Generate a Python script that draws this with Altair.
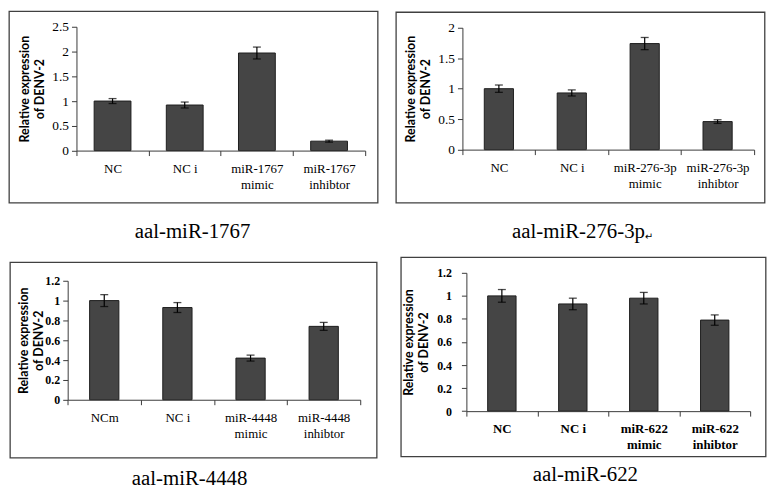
import altair as alt
import pandas as pd

# ---------------- data ----------------
cats_1767 = ["NC", "NC i", "miR-1767\nmimic", "miR-1767\ninhibtor"]
vals_1767 = [1.00, 0.92, 1.97, 0.19]
errs_1767 = [0.05, 0.06, 0.12, 0.02]

cats_276 = ["NC", "NC i", "miR-276-3p\nmimic", "miR-276-3p\ninhibtor"]
vals_276 = [1.00, 0.93, 1.74, 0.46]
errs_276 = [0.06, 0.05, 0.10, 0.03]

cats_4448 = ["NCm", "NC i", "miR-4448\nmimic", "miR-4448\ninhibtor"]
vals_4448 = [1.00, 0.93, 0.42, 0.74]
errs_4448 = [0.06, 0.05, 0.03, 0.04]

cats_622 = ["NC", "NC i", "miR-622\nmimic", "miR-622\ninhibtor"]
vals_622 = [1.00, 0.93, 0.98, 0.79]
errs_622 = [0.055, 0.05, 0.05, 0.045]

yticks_1767 = [0, 0.5, 1, 1.5, 2, 2.5]
yticks_276 = [0, 0.5, 1, 1.5, 2]
yticks_4448 = [0, 0.2, 0.4, 0.6, 0.8, 1, 1.2]
yticks_622 = [0, 0.2, 0.4, 0.6, 0.8, 1, 1.2]

captions = ["aal-miR-1767", "aal-miR-276-3p", "aal-miR-4448", "aal-miR-622"]
return_mark = "\u21b5"
y_title = ["Relative expression", "of DENV-2"]

# ---------------- layout (reference pixel geometry) ----------------
SX, SY = 0.983, 0.975
TITLE_LH = 15


def sx(v):
    return round(v * SX, 2)


def sy(v):
    return round(v * SY, 2)


layouts = [
    dict(view=(71, 16), xaxis=(71, 367), yaxis=(144, 16), frame=(2, 0, 380, 198),
         cell=(2, 0, 388, 244), cap=(190, 228), ytitle=25.5, bar=0.51,
         ybold=False, xbold=False, ysize=13.5, ypad=3),
    dict(view=(463, 16), xaxis=(463, 762), yaxis=(143, 17), frame=(395, 1, 773, 198),
         cell=(388, 0, 778, 244), cap=(582, 228), ytitle=417.5, bar=0.40,
         ybold=False, xbold=False, ysize=13.5, ypad=3),
    dict(view=(71, 277), xaxis=(62, 362), yaxis=(400, 277), frame=(3, 258, 379, 460),
         cell=(2, 244, 391, 494), cap=(187, 482), ytitle=24.5, bar=0.40,
         ybold=True, xbold=False, ysize=12, ypad=3),
    dict(view=(470, 269), xaxis=(470, 761), yaxis=(412, 269), frame=(403, 253, 777, 459),
         cell=(391, 244, 778, 494), cap=(592, 478), ytitle=418, bar=0.40,
         ybold=True, xbold=True, ysize=12, ypad=10),
]

AXIS_COLOR = "#3a3a3a"
SERIF = "Liberation Serif"


def make_panel(cats, vals, errs, yticks, caption, L, extra=None):
    vx, vy = L["view"]
    ax0, ax1 = L["xaxis"]
    yz, yt = L["yaxis"]
    W = sx(ax1 - vx)
    H = sy(yz - vy)
    df = pd.DataFrame({
        "cat": cats,
        "val": vals,
        "lo": [v - e for v, e in zip(vals, errs)],
        "hi": [v + e for v, e in zip(vals, errs)],
    })
    one = pd.DataFrame({"k": [0]})

    xscale = alt.Scale(range=[sx(ax0 - vx), sx(ax1 - vx)], paddingInner=0, paddingOuter=0)
    yscale = alt.Scale(domain=[0, yticks[-1]], range=[sy(yz - vy), sy(yt - vy)], nice=False)

    xaxis = alt.Axis(
        title=None, labelAngle=0, labelExpr="split(datum.label, '\\n')",
        labelFont=SERIF, labelFontSize=13, labelLineHeight=16, labelBaseline="top",
        labelPadding=7, labelColor="black", labelFontWeight="bold" if L["xbold"] else "normal",
        tickBand="extent", tickSize=5, tickColor=AXIS_COLOR, domainColor=AXIS_COLOR,
        grid=False, zindex=1,
    )
    yaxis = alt.Axis(
        values=yticks, format="~g", grid=False, zindex=1,
        labelFont=SERIF, labelFontSize=L["ysize"], labelColor="black", labelPadding=L["ypad"],
        labelFontWeight="bold" if L["ybold"] else "normal",
        tickSize=5, tickColor=AXIS_COLOR, domainColor=AXIS_COLOR,
        offset=sx(vx - ax0),
        title=y_title, titleFont="Lato", titleFontSize=12.5, titleFontWeight="bold",
        titleColor="black", titleLineHeight=TITLE_LH, titleAngle=270, titleAlign="center",
        titleBaseline="middle", titleX=sx(L["ytitle"] - ax0 - TITLE_LH / 2),
        titleY=sy((yz + yt) / 2 - vy),
    )

    X = alt.X("cat:N", sort=cats, scale=xscale, axis=xaxis)

    c0, c1, c2, c3 = L["cell"]
    cell = alt.Chart(one).mark_rect(color="white").encode(
        x=alt.value(sx(c0 - vx)), x2=alt.value(sx(c2 - vx)),
        y=alt.value(sy(c1 - vy)), y2=alt.value(sy(c3 - vy)),
    )
    f0, f1, f2, f3 = L["frame"]
    frame = alt.Chart(one).mark_rect(fill="white", fillOpacity=0, stroke="#404040",
                                     strokeWidth=1.3).encode(
        x=alt.value(sx(f0 - vx)), x2=alt.value(sx(f2 - vx)),
        y=alt.value(sy(f1 - vy)), y2=alt.value(sy(f3 - vy)),
    )
    bars = alt.Chart(df).mark_bar(
        width=alt.RelativeBandSize(L["bar"]), color="#454545", stroke="#1e1e1e", strokeWidth=1
    ).encode(x=X, y=alt.Y("val:Q", scale=yscale, axis=yaxis))
    rule = alt.Chart(df).mark_rule(color="black", strokeWidth=1.2).encode(
        x=X, y=alt.Y("lo:Q", scale=yscale, axis=yaxis), y2="hi:Q")
    cap_hi = alt.Chart(df).mark_tick(color="black", size=8, thickness=1.3,
                                     orient="horizontal").encode(
        x=X, y=alt.Y("hi:Q", scale=yscale, axis=yaxis))
    cap_lo = alt.Chart(df).mark_tick(color="black", size=8, thickness=1.3,
                                     orient="horizontal").encode(
        x=X, y=alt.Y("lo:Q", scale=yscale, axis=yaxis))
    tx, ty = L["cap"]
    cap_text = alt.Chart(one).mark_text(
        text=caption, font=SERIF, fontSize=21, align="center", baseline="middle", color="black"
    ).encode(x=alt.value(sx(tx - vx)), y=alt.value(sy(ty - vy)))
    layers = [cell, frame, bars, rule, cap_hi, cap_lo, cap_text]
    if extra is not None:
        ex, ey = extra
        layers.append(alt.Chart(one).mark_text(
            text=return_mark, font="DejaVu Sans", fontSize=10, align="left",
            baseline="middle", color="black"
        ).encode(x=alt.value(sx(ex - vx)), y=alt.value(sy(ey - vy))))
    return alt.layer(*layers).properties(width=W, height=H)


p1 = make_panel(cats_1767, vals_1767, errs_1767, yticks_1767, captions[0], layouts[0])
p2 = make_panel(cats_276, vals_276, errs_276, yticks_276, captions[1], layouts[1],
                extra=(650, 233))
p3 = make_panel(cats_4448, vals_4448, errs_4448, yticks_4448, captions[2], layouts[2])
p4 = make_panel(cats_622, vals_622, errs_622, yticks_622, captions[3], layouts[3])

chart = alt.concat(
    p1, p2, p3, p4, columns=2, spacing=0, align="none", bounds="full", padding=0,
    background="white",
).resolve_scale(x="independent", y="independent").configure_view(strokeWidth=0)

chart.save("out.html", embed_options={"renderer": "svg", "actions": False})
